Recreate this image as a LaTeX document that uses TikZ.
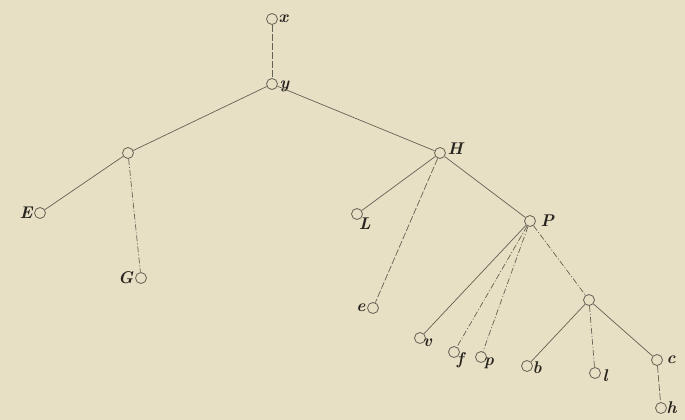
\documentclass[tikz,border=0pt]{standalone}
\usepackage{tikz}
\usetikzlibrary{positioning}
\definecolor{PaperTone}{RGB}{232, 224, 196}
\definecolor{InkGray}{RGB}{100, 97, 86}
\definecolor{InkDark}{RGB}{40, 37, 32}

\begin{document}
\begin{tikzpicture}[
    x=1pt, y=-1pt,
    every label/.style={font=\fontsize{17}{19}\selectfont\bfseries\itshape, text=InkDark, inner sep=1.5pt},
    knot/.style={circle, draw=InkGray, fill=PaperTone, line width=0.8pt, minimum size=11pt, inner sep=0pt},
    edge/.style={draw=InkGray, line width=0.7pt},
    gapped/.style={edge, dash pattern=on 7pt off 2pt},
    dotdash/.style={edge, dash pattern=on 6pt off 2pt on 1pt off 2pt}
  ]
    % Paper
    \fill[PaperTone] (0,0) rectangle (685,420);
    \useasboundingbox (0,0) rectangle (685,420);

    % Upper part
    \node[knot, label={[xshift=-1pt]right:x}] (nx) at (272,19) {};
    \node[knot, label={[yshift=-2pt]right:y}] (ny) at (272,84) {};
    \node[knot] (na) at (128,153) {};
    \node[knot, label=left:E] (nE) at (40,213) {};
    \node[knot, label=left:G] (nG) at (141,278) {};
    \node[knot, label={[yshift=4pt]right:H}] (nH) at (440,153) {};
    \node[knot, label={[xshift=-4pt, yshift=2pt]below right:L}] (nL) at (357,214) {};
    \node[knot, label=left:e] (ne) at (373,308) {};
    \node[knot, label={[xshift=3pt]right:P}] (nP) at (530,221) {};

    % Lower right part
    \node[knot, label={[xshift=-3pt, yshift=5pt]below right:v}] (nv) at (420,338) {};
    \node[knot, label={[xshift=-3pt, yshift=5pt]below right:f}] (nf) at (454,352) {};
    \node[knot, label={[xshift=-3pt, yshift=5pt]below right:p}] (np) at (481,357) {};
    \node[knot] (nb0) at (589,300) {};
    \node[knot, label={[xshift=-2pt, yshift=-2pt]right:b}] (nb) at (527,366) {};
    \node[knot, label={[yshift=-3pt]right:l}] (nl) at (595,373) {};
    \node[knot, label={[xshift=2pt]right:c}] (nc) at (657,360) {};
    \node[knot, label={[xshift=-2pt]right:h}] (nh) at (661,408) {};

    % Connections
    \draw[gapped] (nx) -- (ny);
    \draw[edge] (ny) -- (na);
    \draw[edge] (ny) -- (nH);
    \draw[edge] (na) -- (nE);
    \draw[dotdash] (na) -- (nG);
    \draw[edge] (nH) -- (nL);
    \draw[gapped] (nH) -- (ne);
    \draw[edge] (nH) -- (nP);
    \draw[edge] (nP) -- (nv);
    \draw[dotdash] (nP) -- (nf);
    \draw[dotdash] (nP) -- (np);
    \draw[dotdash] (nP) -- (nb0);
    \draw[edge] (nb0) -- (nb);
    \draw[dotdash] (nb0) -- (nl);
    \draw[edge] (nb0) -- (nc);
    \draw[gapped] (nc) -- (nh);
  \end{tikzpicture}
\end{document}
